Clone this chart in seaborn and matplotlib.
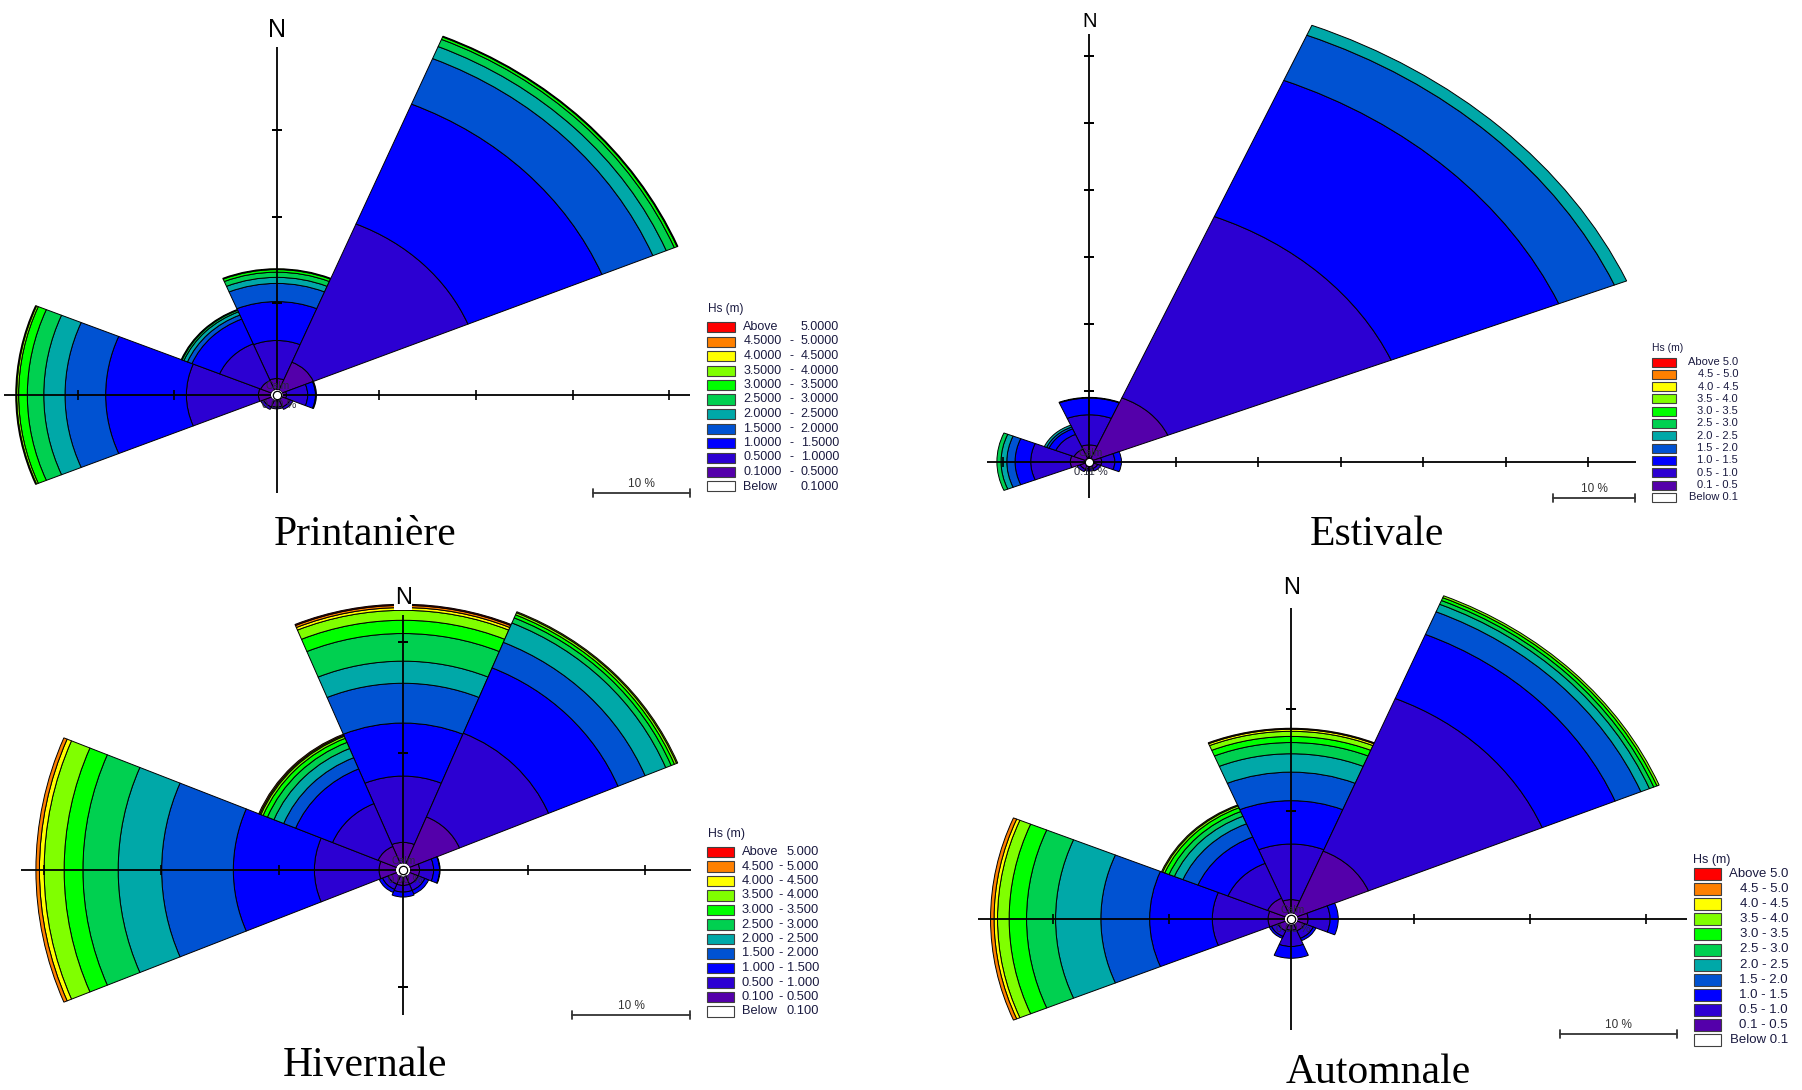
import numpy as np
import matplotlib
matplotlib.use("Agg")
import matplotlib.pyplot as plt
from matplotlib.patches import Rectangle
from matplotlib.lines import Line2D
import seaborn as sns

# ------------------------------------------------------------------ data
SEASONS = ["Printanière", "Estivale", "Hivernale", "Automnale"]
DIRECTIONS = ["N", "NE", "E", "SE", "S", "SW", "W", "NW"]
DIR_ANGLES = [0, 45, 90, 135, 180, 225, 270, 315]
HS_BOUNDS = [0.1, 0.5, 1.0, 1.5, 2.0, 2.5, 3.0, 3.5, 4.0, 4.5, 5.0]
HS_COLORS = ["#5400aa", "#2c00d2", "#0000ff", "#0052d2", "#00a8a8", "#00d050",
             "#00ff00", "#80ff00", "#ffff00", "#ff8000", "#ff0000"]
CALMS = ["0.00 %", "0.11 %", "0.00 %", "0.00 %"]

# frequency (%) of each Hs class, lowest class first, one row per direction
printaniere = [
    [1.3, 4.4, 4.5, 2.1, 0.7, 0.6, 0.3, 0.1],             # N
    [3.5, 17.3, 15.0, 5.7, 1.5, 0.9, 0.3, 0.1],           # NE
    [0.4, 2.2, 0.8, 0.1],                                  # E
    [0.9, 0.3],                                            # SE
    [0.8, 0.2],                                            # S
    [0.9, 0.3],                                            # SW
    [1.3, 7.45, 8.35, 4.2, 2.2, 1.7, 0.9, 0.2, 0.1],       # W
    [1.2, 4.6, 3.1, 0.5, 0.4, 0.2, 0.1],                   # NW
]
estivale = [
    [2.0, 4.5, 2.5, 0.1],                                  # N
    [9.8, 29.3, 22.0, 7.3, 1.6],                           # NE
    [1.0, 1.6, 0.8],                                       # E
    [0.6, 0.4],                                            # SE
    [0.6, 0.3],                                            # S
    [0.7, 0.4],                                            # SW
    [1.8, 4.8, 1.9, 1.0, 0.7, 0.5],                        # W
    [1.5, 2.4, 0.9, 0.3, 0.3],                             # NW
]
hivernale = [
    [1.9, 6.0, 4.8, 3.6, 2.0, 2.5, 1.2, 0.9, 0.25, 0.2, 0.1],   # N
    [4.6, 8.2, 6.4, 2.5, 1.9, 0.5, 0.3, 0.2, 0.1],              # NE
    [0.8, 1.2, 0.5, 0.05],                                      # E
    [0.8, 0.6, 0.35],                                           # SE
    [0.8, 0.6, 0.45],                                           # S
    [0.8, 0.5, 0.3],                                            # SW
    [1.45, 5.5, 6.9, 6.1, 3.7, 3.0, 1.6, 1.7, 0.4, 0.3],        # W
    [1.7, 4.2, 3.4, 1.1, 0.9, 0.6, 0.4, 0.2, 0.1, 0.1],         # NW
]
automnale = [
    [1.35, 5.45, 4.25, 2.8, 1.8, 1.1, 0.6, 0.5, 0.2, 0.1],      # N
    [6.65, 16.2, 6.8, 2.4, 0.8, 0.4, 0.3, 0.2],                 # NE
    [0.9, 1.9, 0.7],                                            # E
    [0.7, 0.8, 0.25],                                           # SE
    [0.55, 1.6, 1.15],                                          # S
    [0.7, 0.6, 0.2],                                            # SW
    [1.45, 4.8, 5.4, 4.2, 3.9, 2.5, 1.5, 1.0, 0.3, 0.3],        # W
    [1.65, 3.7, 2.8, 1.4, 0.8, 0.5, 0.4, 0.2, 0.1],             # NW
]
SEASON_DATA = [printaniere, estivale, hivernale, automnale]
SCALE_STEP = 10  # % between axis ticks / length of the scale bar

# ---------------------------------------------------------------- layout (pixels)
W, H, DPI = 1802, 1090, 100
LAYOUT = [
    dict(c=(276.8, 395.0), sx=9.67, sy=8.65, ro=0.6, arms=(40.2, 42.7, 11.3, 28.2),
         n=(276.8, 30.0), nfs=18, bar=(592.9, 492.7), title=(365.5, 535),
         leg=dict(tx=708, ty=309, y0=327, pitch=14.5, px=707, pw=28, ph=10,
                  tl=743.3, tr=839, fs=9.0, dec=4, split=True)),
    dict(c=(1089.3, 461.7), sx=8.25, sy=6.7, ro=0.5, arms=(63.9, 66.3, 5.4, 12.4),
         n=(1089.3, 21.7), nfs=14.5, bar=(1552.7, 498.0), title=(1376.7, 535),
         leg=dict(tx=1652, ty=348, y0=362, pitch=12.3, px=1651.7, pw=24.3, ph=9,
                  tl=None, tr=1738, fs=8.0, dec=1, split=False)),
    dict(c=(403.1, 870.0), sx=11.75, sy=11.05, ro=0.6, arms=(23.1, 24.5, 13.1, 32.5),
         n=(403.1, 598.3), nfs=17, bar=(572.3, 1015.0), title=(365.5, 1066),
         leg=dict(tx=708, ty=834, y0=852, pitch=14.5, px=707, pw=27, ph=10.5,
                  tl=741.7, tr=819, fs=9.3, dec=3, split=True)),
    dict(c=(1291.25, 919.0), sx=11.61, sy=10.2, ro=0.55, arms=(30.5, 34.1, 10.9, 27.0),
         n=(1291.3, 588.3), nfs=17, bar=(1560.4, 1034.0), title=(1378, 1073),
         leg=dict(tx=1693, ty=860, y0=874, pitch=15.1, px=1694, pw=26.7, ph=12,
                  tl=None, tr=1788, fs=9.5, dec=1, split=False)),
]
R_MAX = 80
TXT = "#1a1a40"

sns.set_theme(style="white")
plt.rcParams["font.family"] = ["Liberation Sans", "DejaVu Sans"]

fig = plt.figure(figsize=(W / DPI, H / DPI), dpi=DPI, facecolor="white")


def fxy(x, y):
    return x / W, 1 - y / H


def draw_rose(data, lay, calm):
    cx, cy = lay["c"]
    sx, sy, ro = lay["sx"], lay["sy"], lay["ro"]
    hw, hh = (R_MAX + ro) * sx, (R_MAX + ro) * sy
    ax = fig.add_axes([(cx - hw) / W, 1 - (cy + hh) / H, 2 * hw / W, 2 * hh / H],
                      projection="polar")
    ax.set_aspect("auto")
    ax.set_theta_zero_location("N")
    ax.set_theta_direction(-1)
    ax.set_ylim(0, R_MAX)
    ax.set_rorigin(-ro)
    ax.set_axis_off()

    width = np.deg2rad(45)
    for ang, row in zip(DIR_ANGLES, data):
        row = np.asarray(row, dtype=float)
        bottoms = np.concatenate([[0.0], np.cumsum(row)[:-1]])
        ax.bar(np.full(len(row), np.deg2rad(ang)), row, width=width, bottom=bottoms,
               color=HS_COLORS[:len(row)], edgecolor="black", linewidth=0.7, zorder=2)

    # compass cross with percentage ticks
    for ang, arm in zip([0, 90, 180, 270], lay["arms"]):
        t = np.deg2rad(ang)
        ax.plot([t, t], [0, arm - ro], color="black", lw=1.3, zorder=5,
                solid_capstyle="butt")
        ticks = np.arange(SCALE_STEP, arm - ro - 1, SCALE_STEP)
        ax.plot(np.full(len(ticks), t), ticks, ls="none",
                marker="_" if ang in (0, 180) else "|", ms=7, mew=1.2,
                color="black", zorder=5)

    # calm circle
    ax.plot([0], [-ro], marker="o", ms=6, mfc="white", mec="black", mew=0.9,
            clip_on=False, zorder=7)
    fig.text(*fxy(cx + 1, cy - 9), "Calm", fontsize=7.5, color="#2a2a3a",
             ha="center", va="center", zorder=8)
    fig.text(*fxy(cx + 2, cy + 10), calm, fontsize=8, color="#2a2a3a",
             ha="center", va="center", zorder=8)

    # north label
    nx, ny = lay["n"]
    fig.text(*fxy(nx, ny), "N", fontsize=lay["nfs"], color="black", ha="center",
             va="center", zorder=9,
             bbox=dict(facecolor="white", edgecolor="none", pad=0.5))

    # scale bar
    bx, by = lay["bar"]
    bl = SCALE_STEP * sx
    fig.add_artist(Line2D([bx / W, (bx + bl) / W], [1 - by / H] * 2, color="#333333",
                          lw=1.3))
    for xe in (bx, bx + bl):
        fig.add_artist(Line2D([xe / W] * 2, [1 - (by - 4) / H, 1 - (by + 4) / H],
                              color="#333333", lw=1.3))
    fig.text(*fxy(bx + bl / 2, by - 9), f"{SCALE_STEP} %", fontsize=8.5,
             color="#333333", ha="center", va="center")


def draw_legend(leg):
    fs, dec = leg["fs"], leg["dec"]
    fig.text(*fxy(leg["tx"], leg["ty"]), "Hs (m)", fontsize=fs - 0.5, color=TXT,
             ha="left", va="center")
    n = len(HS_BOUNDS)
    rows = [("Above", None, HS_BOUNDS[-1], HS_COLORS[-1])]
    for k in range(n - 2, -1, -1):
        rows.append((HS_BOUNDS[k], "-", HS_BOUNDS[k + 1], HS_COLORS[k]))
    rows.append(("Below", None, HS_BOUNDS[0], "white"))
    for i, (lo, sep, hi, col) in enumerate(rows):
        yc = leg["y0"] + i * leg["pitch"]
        fig.add_artist(Rectangle(fxy(leg["px"], yc + leg["ph"] / 2), leg["pw"] / W,
                                 leg["ph"] / H, transform=fig.transFigure,
                                 facecolor=col, edgecolor="#404040", lw=0.8))
        lo_s = lo if isinstance(lo, str) else f"{lo:.{dec}f}"
        hi_s = f"{hi:.{dec}f}"
        if leg["split"]:
            fig.text(*fxy(leg["tl"], yc), lo_s, fontsize=fs, color=TXT,
                     ha="left", va="center")
            fig.text(*fxy(leg["tr"], yc), hi_s, fontsize=fs, color=TXT,
                     ha="right", va="center")
            if sep:
                fig.text(*fxy((leg["tl"] + leg["tr"]) / 2, yc), sep, fontsize=fs,
                         color=TXT, ha="center", va="center")
        else:
            label = f"{lo_s} {sep} {hi_s}" if sep else f"{lo_s} {hi_s}"
            fig.text(*fxy(leg["tr"], yc), label, fontsize=fs, color=TXT,
                     ha="right", va="center")


for name, data, lay, calm in zip(SEASONS, SEASON_DATA, LAYOUT, CALMS):
    draw_rose(data, lay, calm)
    draw_legend(lay["leg"])
    fig.text(*fxy(*lay["title"]), name, fontsize=30, family="Liberation Serif",
             color="black", ha="center", va="center")

fig.savefig("out.png", dpi=DPI, facecolor="white")
